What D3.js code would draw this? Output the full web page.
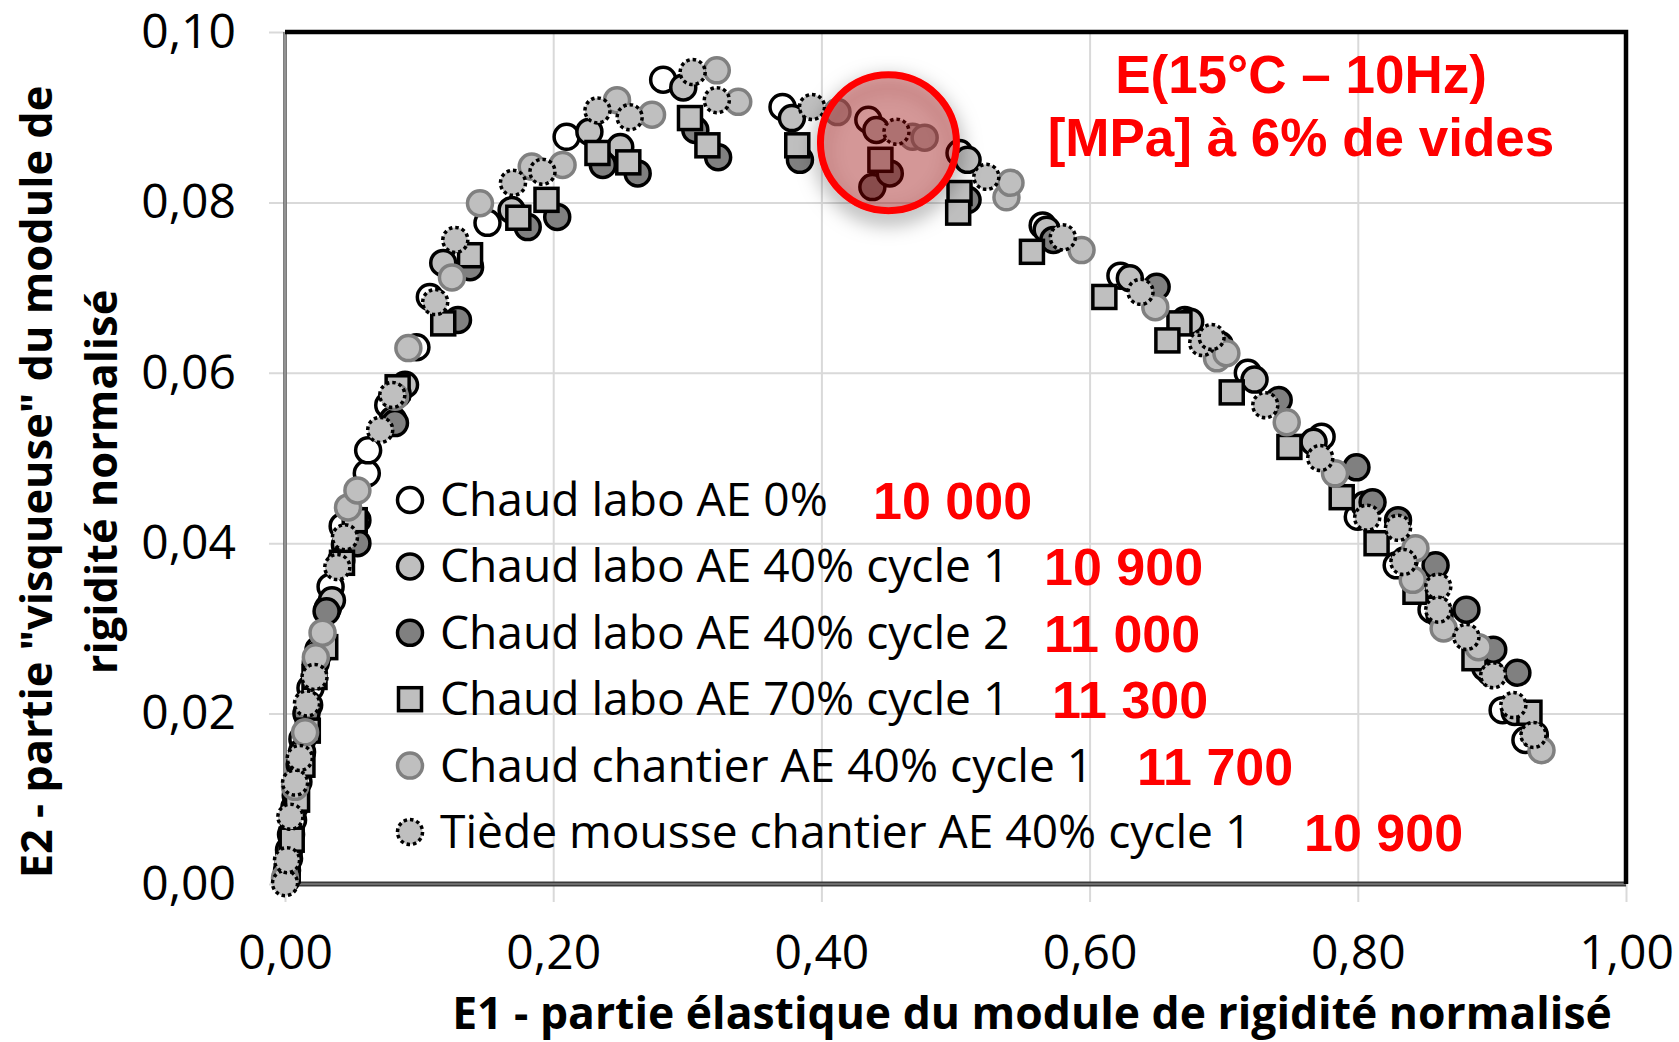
<!DOCTYPE html>
<html>
<head>
<meta charset="utf-8">
<script src="https://cdn.jsdelivr.net/npm/d3@7"></script>
<style>
  body { margin: 0; background: #fff; }
  svg { display: block; }
  .grid line { stroke: #d9d9d9; stroke-width: 2; }
  .grid .domain { display: none; }
  .tick text { font-family: "Open Sans", sans-serif; font-size: 48px; fill: #000; }
</style>
</head>
<body>
<div class="main"></div>
<script>
const svgWidth = 1679,
    svgHeight = 1042,
    plot = {left: 285, right: 1626, top: 32, bottom: 884};

// tick values
const xTicks = [0, 0.2, 0.4, 0.6, 0.8, 1.0];
const yTicks = [0, 0.02, 0.04, 0.06, 0.08, 0.10];

// legend
const seriesNames = [
  "Chaud labo AE 0%",
  "Chaud labo AE 40% cycle 1",
  "Chaud labo AE 40% cycle 2",
  "Chaud labo AE 70% cycle 1",
  "Chaud chantier AE 40% cycle 1",
  "Tiède mousse chantier AE 40% cycle 1"
];
const modulus = [10000, 10900, 11000, 11300, 11700, 10900];

const noteLines = ["E(15°C – 10Hz)", "[MPa] à 6% de vides"];
// point highlighted by the red circle (E1, E2)
const highlight = [0.45, 0.087];

// [E1, E2] per series
const labo0 = [[0.001,0.0005],[0.003,0.003],[0.006,0.0075],[0.010,0.012],[0.013,0.017],[0.019,0.023],[0.025,0.0275],[0.032,0.0324],[0.034,0.0349],[0.043,0.042],[0.061,0.0482],[0.062,0.0509],[0.077,0.0562],[0.098,0.063],[0.108,0.0689],[0.125,0.0729],[0.151,0.0776],[0.210,0.0877],[0.282,0.0944],[0.371,0.0912],[0.435,0.0897],[0.503,0.0858],[0.565,0.0773],[0.623,0.0714],[0.671,0.0662],[0.718,0.060],[0.773,0.0525],[0.800,0.0431],[0.829,0.0374],[0.855,0.0322],[0.899,0.0248],[0.908,0.0204],[0.925,0.0169]];
const labo40c1 = [[0.0015,0.0016],[0.0045,0.0058],[0.008,0.0104],[0.0127,0.0155],[0.018,0.021],[0.0246,0.0269],[0.035,0.0333],[0.0447,0.0398],[0.054,0.0427],[0.0805,0.0545],[0.0895,0.0586],[0.118,0.0729],[0.169,0.0791],[0.227,0.0883],[0.250,0.0865],[0.297,0.0935],[0.378,0.0899],[0.441,0.0885],[0.509,0.085],[0.568,0.0768],[0.630,0.0711],[0.675,0.066],[0.723,0.0592],[0.767,0.0519],[0.805,0.0445],[0.835,0.038],[0.861,0.0316],[0.895,0.0254],[0.917,0.0202],[0.932,0.0175]];
const labo40c2 = [[0.001,0.001],[0.003,0.004],[0.007,0.009],[0.011,0.014],[0.016,0.020],[0.023,0.026],[0.031,0.032],[0.042,0.038],[0.054,0.040],[0.084,0.0575],[0.082,0.0541],[0.129,0.0662],[0.138,0.0724],[0.181,0.0771],[0.203,0.0783],[0.237,0.0844],[0.263,0.0834],[0.306,0.0885],[0.323,0.0853],[0.384,0.085],[0.438,0.0818],[0.451,0.0834],[0.509,0.0803],[0.573,0.0756],[0.650,0.0701],[0.697,0.0633],[0.741,0.0568],[0.799,0.0489],[0.811,0.0448],[0.830,0.0427],[0.858,0.0374],[0.881,0.0322],[0.901,0.0275],[0.919,0.0248]];
const labo70c1 = [[0.002,0.0016],[0.005,0.0052],[0.009,0.0099],[0.013,0.014],[0.017,0.018],[0.022,0.0243],[0.030,0.0278],[0.0425,0.0377],[0.052,0.0427],[0.084,0.0583],[0.118,0.0658],[0.138,0.0738],[0.174,0.0782],[0.195,0.0803],[0.233,0.0858],[0.256,0.0847],[0.302,0.0899],[0.315,0.0867],[0.382,0.0867],[0.444,0.085],[0.503,0.0811],[0.502,0.0788],[0.557,0.0742],[0.611,0.0689],[0.667,0.0658],[0.658,0.0638],[0.706,0.0577],[0.749,0.0513],[0.788,0.0454],[0.814,0.040],[0.843,0.0343],[0.887,0.0265],[0.928,0.0201]];
const chantier40c1 = [[0.0,0.0007],[0.0075,0.0114],[0.015,0.0178],[0.023,0.0266],[0.028,0.0295],[0.047,0.0442],[0.054,0.0462],[0.082,0.0572],[0.092,0.0629],[0.1245,0.0712],[0.1454,0.0799],[0.184,0.0842],[0.207,0.0844],[0.2476,0.092],[0.2737,0.0903],[0.322,0.0955],[0.338,0.0918],[0.412,0.0906],[0.468,0.0877],[0.477,0.0876],[0.538,0.0806],[0.541,0.0823],[0.594,0.0744],[0.649,0.0677],[0.695,0.0617],[0.702,0.0623],[0.747,0.0542],[0.783,0.0482],[0.843,0.0394],[0.841,0.0357],[0.864,0.030],[0.890,0.0278],[0.937,0.0157]];
const mousse40c1 = [[0.0,0.0001],[0.0015,0.0028],[0.004,0.0079],[0.0075,0.0119],[0.011,0.0148],[0.0164,0.0212],[0.022,0.0243],[0.039,0.0372],[0.0447,0.0407],[0.071,0.0533],[0.080,0.0574],[0.112,0.0683],[0.127,0.0756],[0.170,0.0823],[0.192,0.0836],[0.233,0.0908],[0.257,0.090],[0.304,0.0953],[0.322,0.092],[0.393,0.0912],[0.456,0.0883],[0.523,0.083],[0.580,0.0759],[0.638,0.0695],[0.684,0.0635],[0.691,0.0642],[0.731,0.0562],[0.772,0.050],[0.807,0.043],[0.830,0.0418],[0.834,0.0378],[0.860,0.0349],[0.860,0.0322],[0.881,0.029],[0.901,0.0245],[0.916,0.021],[0.931,0.0175]];

const seriesData = [labo0, labo40c1, labo40c2, labo70c1, chantier40c1, mousse40c1];

const styles = [
  {shape: "circle", fill: "#ffffff", stroke: "#000000", dash: null},
  {shape: "circle", fill: "#bfbfbf", stroke: "#000000", dash: null},
  {shape: "circle", fill: "#808080", stroke: "#000000", dash: null},
  {shape: "square", fill: "#bfbfbf", stroke: "#000000", dash: null},
  {shape: "circle", fill: "#bfbfbf", stroke: "#808080", dash: null},
  {shape: "circle", fill: "#bfbfbf", stroke: "#000000", dash: "3.5,3"}
];

const r = 12.5, sq = 23, markerStroke = 3.5;

let svg = d3.select("body>.main").append("svg")
    .attr("width", svgWidth)
    .attr("height", svgHeight);

svg.append("rect").attr("width", svgWidth).attr("height", svgHeight).attr("fill", "#fff");

let x = d3.scaleLinear().domain([0, 1]).range([plot.left, plot.right]),
    y = d3.scaleLinear().domain([0, 0.1]).range([plot.bottom, plot.top]);

const fmt = (d) => d3.format(".2f")(d).replace(".", ",");
const plotW = plot.right - plot.left,
      plotH = plot.bottom - plot.top,
      tickLen = 16;

// gridlines + tick labels (ticks stick out of the axes like in Excel)
svg.append("g")
    .attr("class", "grid y")
    .attr("transform", "translate(" + (plot.left - tickLen) + ",0)")
    .call(d3.axisLeft(y).tickValues(yTicks).tickFormat(fmt)
      .tickSize(-(plotW + tickLen)).tickPadding(33));

svg.append("g")
    .attr("class", "grid x")
    .attr("transform", "translate(0," + (plot.bottom + 18) + ")")
    .call(d3.axisBottom(x).tickValues(xTicks).tickFormat(fmt)
      .tickSize(-(plotH + 18)).tickPadding(33));

// axis lines and border
svg.append("line")
    .attr("x1", plot.left).attr("x2", plot.left)
    .attr("y1", plot.top).attr("y2", plot.bottom)
    .style("stroke", "#555").style("stroke-width", 3.5);
svg.append("line")
    .attr("x1", plot.left).attr("x2", plot.left)
    .attr("y1", plot.top).attr("y2", plot.bottom)
    .style("stroke", "#d0d0d0").style("stroke-width", 1);
svg.append("line")
    .attr("x1", plot.left).attr("x2", plot.right)
    .attr("y1", plot.bottom).attr("y2", plot.bottom)
    .style("stroke", "#3a3a3a").style("stroke-width", 5);
svg.append("line")
    .attr("x1", plot.left).attr("x2", plot.right)
    .attr("y1", plot.bottom).attr("y2", plot.bottom)
    .style("stroke", "#a0a0a0").style("stroke-width", 1.2);
svg.append("path")
    .attr("d", "M" + plot.left + "," + plot.top + "H" + plot.right + "V" + plot.bottom)
    .style("fill", "none").style("stroke", "#000").style("stroke-width", 4.5);

function drawMarker(g, st) {
  if (st.shape === "square") {
    g.append("rect")
      .attr("x", -sq / 2).attr("y", -sq / 2)
      .attr("width", sq).attr("height", sq);
  } else {
    g.append("circle").attr("r", r);
  }
  g.selectAll("rect,circle")
    .style("fill", st.fill)
    .style("stroke", st.stroke)
    .style("stroke-width", markerStroke)
    .style("stroke-dasharray", st.dash);
}

// scatter
seriesData.forEach(function(data, i) {
  let st = styles[i];
  svg.append("g")
      .attr("class", "series series-" + i)
    .selectAll("g")
      .data(data)
    .enter().append("g")
      .attr("transform", (d) => "translate(" + x(d[0]) + "," + y(d[1]) + ")")
      .each(function() { drawMarker(d3.select(this), st); });
});

// legend
const legendX = 410, legendTextX = 440, legendY0 = 500, legendStep = 66.4;
const valueX = [873, 1044, 1044, 1052, 1137, 1304];
const spaceFmt = d3.formatLocale({thousands: "\u00a0", grouping: [3], decimal: ","}).format(",d");

let legend = svg.append("g").attr("class", "legend")
    .selectAll(".legend__item")
    .data(seriesNames)
  .enter().append("g")
    .attr("class", "legend__item")
    .attr("transform", (d, i) => "translate(0," + (legendY0 + i * legendStep) + ")");

legend.each(function(d, i) {
  let g = d3.select(this);
  drawMarker(g.append("g").attr("transform", "translate(" + legendX + ",0)"), styles[i]);
  g.append("text")
    .attr("class", "legend-label")
    .attr("x", legendTextX)
    .attr("y", 16)
    .attr("font-family", "'Open Sans', sans-serif")
    .attr("font-size", 46)
    .text(d);
  g.append("text")
    .attr("x", valueX[i])
    .attr("y", 19)
    .attr("font-family", "'Liberation Sans', Arial, sans-serif")
    .attr("font-weight", "bold")
    .attr("font-size", 52)
    .attr("fill", "#ff0000")
    .text(spaceFmt(modulus[i]));
});

// fit a text to a given width (font substitution for Calibri)
function fitWidth(sel, target) {
  let w = sel.node().getComputedTextLength();
  let fs = parseFloat(sel.attr("font-size"));
  sel.attr("font-size", fs * target / w);
  return fs * target / w;
}
let legendSize = fitWidth(svg.select(".legend-label"), 388);
svg.selectAll(".legend-label").attr("font-size", legendSize);

// red note
svg.append("g").selectAll("text")
    .data(noteLines)
  .enter().append("text")
    .attr("x", 1301)
    .attr("y", (d, i) => 93 + i * 63)
    .attr("text-anchor", "middle")
    .attr("font-family", "'Liberation Sans', Arial, sans-serif")
    .attr("font-weight", "bold")
    .attr("font-size", 53)
    .attr("fill", "#ff0000")
    .text((d) => d);

// highlighted point
let defs = svg.append("defs");
defs.append("filter")
    .attr("id", "shadow")
    .attr("x", "-60%").attr("y", "-60%")
    .attr("width", "220%").attr("height", "220%")
  .append("feDropShadow")
    .attr("dx", 0).attr("dy", 8)
    .attr("stdDeviation", 10)
    .attr("flood-color", "#000")
    .attr("flood-opacity", 0.5);

svg.append("circle")
    .attr("cx", x(highlight[0]))
    .attr("cy", y(highlight[1]))
    .attr("r", 68)
    .attr("filter", "url(#shadow)")
    .style("fill", "rgba(170,0,0,0.3)")
    .style("stroke", "#ff0000")
    .style("stroke-width", 7);

// axis titles
let xTitle = svg.append("text")
    .attr("x", 1032)
    .attr("y", 1029)
    .attr("text-anchor", "middle")
    .attr("font-family", "'Open Sans', sans-serif")
    .attr("font-weight", "bold")
    .attr("font-size", 44)
    .text("E1 - partie élastique du module de rigidité normalisé");
fitWidth(xTitle, 1160);

let yTitle1 = svg.append("text")
    .attr("transform", "translate(52,482) rotate(-90)")
    .attr("text-anchor", "middle")
    .attr("font-family", "'Open Sans', sans-serif")
    .attr("font-weight", "bold")
    .attr("font-size", 44)
    .text("E2 - partie \"visqueuse\" du module de");
let ySize = fitWidth(yTitle1, 793);

svg.append("text")
    .attr("transform", "translate(117,482) rotate(-90)")
    .attr("text-anchor", "middle")
    .attr("font-family", "'Open Sans', sans-serif")
    .attr("font-weight", "bold")
    .attr("font-size", ySize)
    .text("rigidité normalisé");
</script>
</body>
</html>
